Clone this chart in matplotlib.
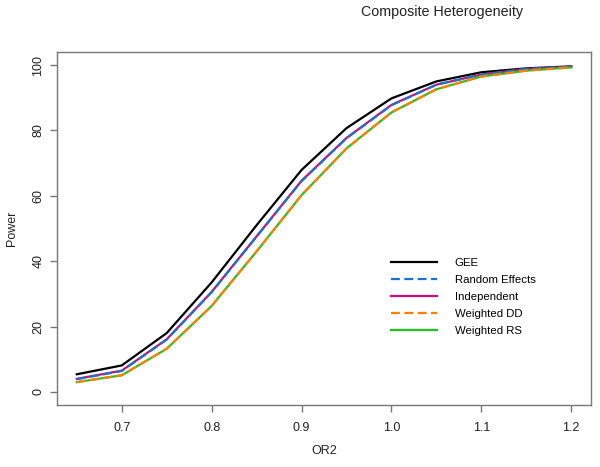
import numpy as np
import matplotlib
matplotlib.use('Agg')
import matplotlib.pyplot as plt

plt.rcParams['font.family'] = ['Liberation Sans', 'DejaVu Sans']

# datos
or2 = [0.65, 0.70, 0.75, 0.80, 0.85, 0.90, 0.95, 1.00, 1.05, 1.10, 1.15, 1.20]
gee = [5.4, 8.1, 18.0, 33.5, 51.0, 67.9, 80.7, 89.8, 95.0, 97.8, 99.0, 99.6]
random_eff = [3.9, 6.4, 16.0, 30.5, 47.5, 64.5, 77.6, 87.7, 94.0, 97.1, 98.8, 99.5]
independent = [4.0, 6.5, 16.1, 30.6, 47.6, 64.6, 77.7, 87.8, 94.0, 97.1, 98.8, 99.5]
weighted_dd = [3.0, 5.1, 13.2, 26.3, 43.0, 60.2, 74.5, 85.5, 92.6, 96.5, 98.3, 99.3]
weighted_rs = [3.0, 5.1, 13.2, 26.3, 43.0, 60.2, 74.5, 85.5, 92.6, 96.5, 98.3, 99.3]

fig = plt.figure(figsize=(6, 4.67), dpi=100)
ax = fig.add_axes([57/600, 1 - 405/467, (591-57)/600, (405-52)/467])

lw = 1.6
ax.plot(or2, gee, color='black', lw=lw, label='GEE')
ax.plot(or2, independent, color='#CD1076', lw=lw, label='Independent')
ax.plot(or2, random_eff, color='#1874CD', lw=lw, ls=(0, (4, 2)), label='Random Effects')
ax.plot(or2, weighted_rs, color='#1FC41F', lw=lw, label='Weighted RS')
ax.plot(or2, weighted_dd, color='#FF8000', lw=lw, ls=(0, (4, 2)), label='Weighted DD')

ax.set_xlim(0.628, 1.222)
ax.set_ylim(-4, 104)
ax.set_xticks([0.7, 0.8, 0.9, 1.0, 1.1, 1.2])
ax.set_xticklabels(['0.7', '0.8', '0.9', '1.0', '1.1', '1.2'])
ax.set_yticks([0, 20, 40, 60, 80, 100])

for s in ax.spines.values():
    s.set_color('#777777')
    s.set_linewidth(1.0)
ax.tick_params(direction='out', length=5, width=1.0, color='#777777',
               labelsize=9, labelcolor='#222222')
ax.tick_params(axis='x', pad=7)
ax.tick_params(axis='y', pad=4)
for t in ax.get_yticklabels():
    t.set_rotation(90)
    t.set_va('center')

fig.text(324/600, 1 - 451/467, 'OR2', ha='center', va='center', fontsize=9, color='#222222')
fig.text(12/600, 1 - 228/467, 'Power', ha='center', va='center', rotation=90,
         fontsize=9, color='#222222')
fig.text(442/600, 1 - 12/467, 'Composite Heterogeneity', ha='center', va='center',
         fontsize=10.3, color='#222222')

handles, labels = ax.get_legend_handles_labels()
orden = ['GEE', 'Random Effects', 'Independent', 'Weighted DD', 'Weighted RS']
h = [handles[labels.index(o)] for o in orden]
fig.legend(h, orden, loc='upper left', bbox_to_anchor=(391/600, 1 - 258/467),
           frameon=False, fontsize=8.2, handlelength=4.0, handletextpad=1.6,
           labelspacing=0.62, borderaxespad=0, borderpad=0)

fig.savefig('out.png', dpi=100)
